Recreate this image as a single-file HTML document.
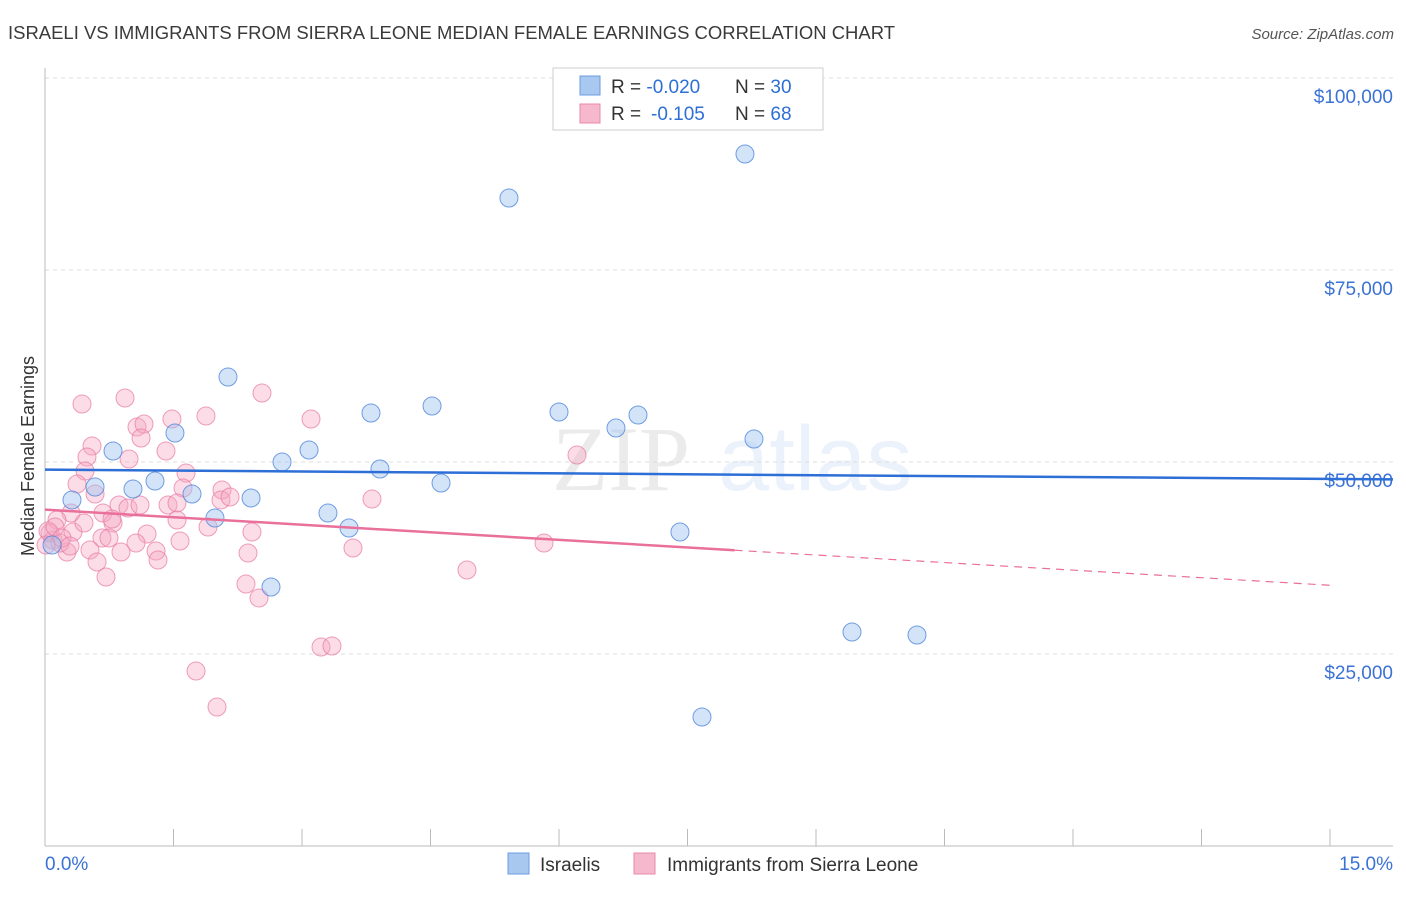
<!DOCTYPE html>
<html><head><meta charset="utf-8"><style>
body{margin:0;background:#fff;font-family:"Liberation Sans",sans-serif}
</style></head><body>
<svg id="chart" width="1406" height="892" viewBox="0 0 1406 892" xmlns="http://www.w3.org/2000/svg" font-family="Liberation Sans, sans-serif">
<text x="8" y="39" font-size="18.5" fill="#3a3a3a" textLength="887" lengthAdjust="spacingAndGlyphs">ISRAELI VS IMMIGRANTS FROM SIERRA LEONE MEDIAN FEMALE EARNINGS CORRELATION CHART</text>
<text x="1394" y="39" font-size="15" fill="#555" font-style="italic" text-anchor="end">Source: ZipAtlas.com</text>
<g font-size="92" opacity="0.12"><text x="552" y="490" font-family="Liberation Serif, serif" fill="#666">ZIP</text><text x="718" y="490" fill="#6a9be0">atlas</text></g>
<g id="grid"></g><g id="axes"></g><g id="pts"></g><g id="lines"></g>
<text transform="translate(34,456) rotate(-90)" font-size="18" fill="#333" text-anchor="middle">Median Female Earnings</text>
<g>
<rect x="553" y="68" width="270" height="62" fill="#fff" stroke="#ccc"/>
<rect x="580" y="76" width="20" height="19" fill="#a9c8f0" stroke="#6a9be0"/>
<rect x="580" y="104" width="20" height="19" fill="#f6b8cc" stroke="#e88aa8"/>
<text x="611" y="93" font-size="19" fill="#333">R = <tspan fill="#2d6fd6">-0.020</tspan><tspan x="735">N = </tspan><tspan fill="#2d6fd6">30</tspan></text>
<text x="611" y="120" font-size="19" fill="#333">R = <tspan x="651" fill="#2d6fd6">-0.105</tspan><tspan x="735">N = </tspan><tspan fill="#2d6fd6">68</tspan></text>
</g>
<g>
<rect x="508" y="853" width="21" height="21" fill="#a9c8f0" stroke="#6a9be0"/>
<text x="540" y="871" font-size="19" fill="#333">Israelis</text>
<rect x="634" y="853" width="21" height="21" fill="#f6b8cc" stroke="#e88aa8"/>
<text x="667" y="871" font-size="19" fill="#333">Immigrants from Sierra Leone</text>
</g>
</svg>
<script>
const yTicks=[25000,50000,75000,100000];
const yTickLabels=["$25,000","$50,000","$75,000","$100,000"];
const xTickLabels=["0.0%","15.0%"];
const israeliX=[0.082,0.315,0.584,0.794,1.027,1.284,1.517,1.716,1.984,2.136,2.405,2.638,2.767,3.082,3.303,3.549,3.805,3.910,4.518,4.623,5.416,6.000,6.665,6.922,7.412,7.669,8.171,8.276,9.420,10.179];
const israeliY=[39193,45052,46745,51432,46485,47526,53776,45834,42709,61067,45313,33725,50000,51562,43360,41407,56380,49089,57291,47266,84373,56510,54427,56119,40886,16799,90102,52995,27866,27475];
const sierraX=[0.432,0.934,2.533,1.879,1.482,3.105,1.074,1.156,1.121,0.549,0.490,1.412,0.981,0.467,1.646,0.374,0.584,1.611,2.066,2.054,3.817,0.864,0.304,0.677,0.969,1.436,1.541,1.541,0.794,0.140,1.903,2.416,0.327,0.665,0.747,1.191,1.062,1.576,3.595,0.525,0.887,1.296,0.257,0.093,1.319,2.370,0.607,0.712,2.346,2.498,3.222,3.350,1.763,2.008,0.058,0.175,4.926,5.825,6.210,0.035,0.117,0.198,0.012,0.292,0.455,0.782,1.109,2.160];
const sierraY=[57552,58333,58984,55989,55599,55599,54557,54948,53125,52083,50651,51432,50391,48828,48568,47135,45834,46615,46354,45052,45183,44401,43360,43360,44011,44401,44662,42448,42058,42448,41537,40886,40886,40105,40105,40626,39454,39714,38803,38542,38282,38412,38282,39844,37240,38152,36980,35027,34116,32293,25913,26043,22788,18101,40756,39454,35938,39454,50911,41016,41537,40105,39193,39063,42058,42578,44401,45443];
const israeliTrend=[49000,47800];
const sierraTrend=[43800,33950];
const sierraSolidEnd=8.05;

const NS="http://www.w3.org/2000/svg";
const X=v=>45+v/15*1285;
const Y=v=>462-(v-50000)*192/25000;
function mk(tag,attrs,parent){const e=document.createElementNS(NS,tag);for(const k in attrs)e.setAttribute(k,attrs[k]);document.getElementById(parent).appendChild(e);return e;}
yTicks.forEach((t,i)=>{
  const g=mk('line',{x1:45,x2:1393,y1:Y(t),y2:Y(t),stroke:'#ddd','stroke-dasharray':'4,4'},'grid');
  
  
  const l=mk('text',{x:1393,y:Y(t)+25,'font-size':19,fill:'#3b72d6','text-anchor':'end'},'grid');
  l.textContent=yTickLabels[i];
  
  
});
const ax=mk('line',{x1:45,x2:45,y1:68,y2:846,stroke:'#bbb'},'axes');


const bx=mk('line',{x1:45,x2:1393,y1:846,y2:846,stroke:'#bbb'},'axes');


for(let i=0;i<=10;i++){
  const t=mk('line',{x1:X(i*1.5),x2:X(i*1.5),y1:829,y2:846,stroke:'#bbb'},'axes');
  
  
}
[[0,'start',45],[15,'end',1393]].forEach((d,i)=>{
  const t=mk('text',{x:d[2],y:870,'font-size':19,fill:'#3b72d6','text-anchor':d[1]},'axes');
  t.textContent=xTickLabels[i];
  
  
});
sierraX.forEach((x,i)=>{
  const c=mk('circle',{cx:X(x),cy:Y(sierraY[i]),r:9,fill:'rgba(246,168,196,0.4)',stroke:'rgba(232,120,160,0.7)','stroke-width':1},'pts');
  
  
});
israeliX.forEach((x,i)=>{
  const c=mk('circle',{cx:X(x),cy:Y(israeliY[i]),r:9,fill:'rgba(160,195,240,0.45)',stroke:'rgba(80,135,220,0.8)','stroke-width':1},'pts');
  
  
});
const bl=mk('line',{x1:X(0),y1:Y(israeliTrend[0]),x2:1393,y2:Y(israeliTrend[0]+(israeliTrend[1]-israeliTrend[0])*(1393-45)/1285),stroke:'#2d6fd6','stroke-width':2.5},'lines');


const sv=x=>sierraTrend[0]+(sierraTrend[1]-sierraTrend[0])*x/15;
const pl=mk('line',{x1:X(0),y1:Y(sv(0)),x2:X(sierraSolidEnd),y2:Y(sv(sierraSolidEnd)),stroke:'#e8709a','stroke-width':2.5},'lines');


const pd=mk('line',{x1:X(sierraSolidEnd),y1:Y(sv(sierraSolidEnd)),x2:X(15),y2:Y(sv(15)),stroke:'#e8709a','stroke-width':1.2,'stroke-dasharray':'8,6'},'lines');


</script>
</body></html>
